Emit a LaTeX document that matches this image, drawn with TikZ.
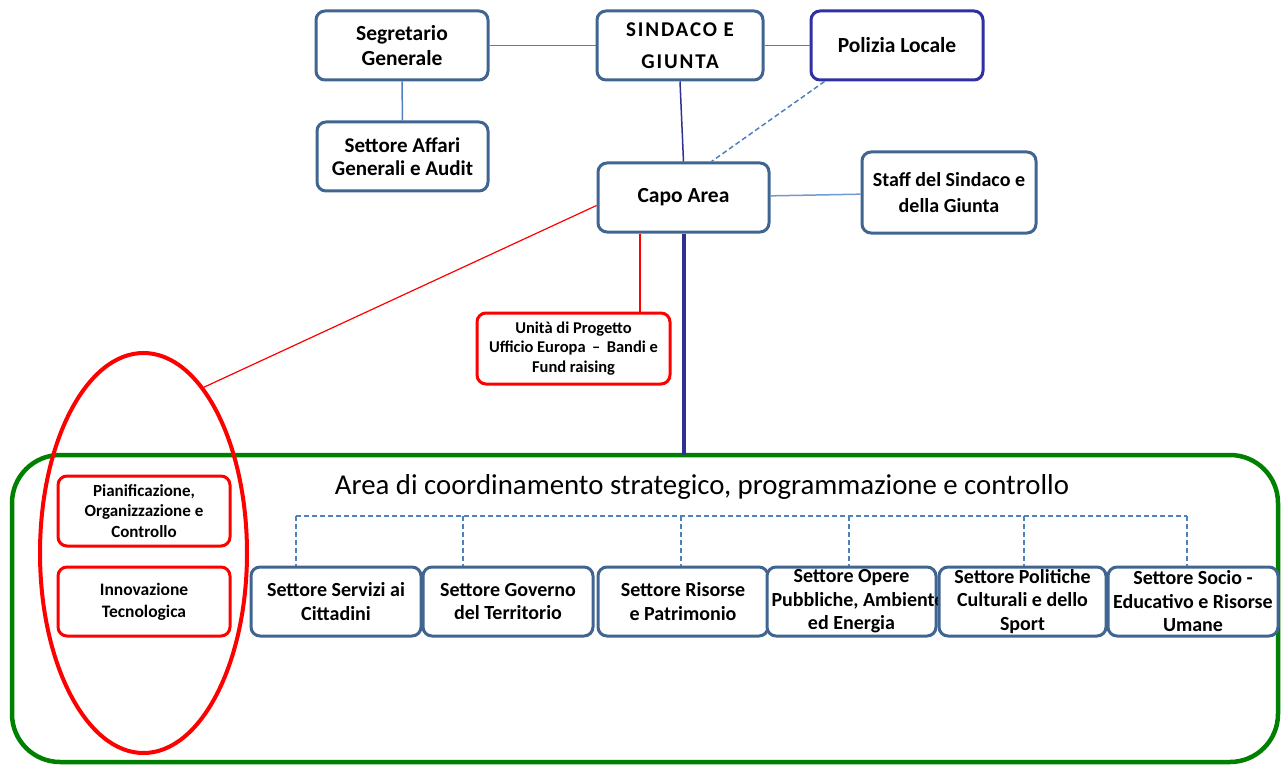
\documentclass[tikz,border=0pt]{standalone}
\usepackage{fontspec}
\setmainfont{Carlito}
\usetikzlibrary{shapes.geometric}
\definecolor{boxblue}{RGB}{65,101,145}
\definecolor{lineblue}{RGB}{79,129,189}
\definecolor{navyline}{RGB}{46,49,146}
\definecolor{policeblue}{RGB}{48,48,160}
\definecolor{areagreen}{RGB}{0,128,0}

\tikzset{
  unitbox/.style={draw=boxblue, line width=3pt, rounded corners=9pt, fill=white,
    align=center, inner sep=1pt, font=\bfseries\fontsize{21.5}{24.5}\selectfont},
  settorebox/.style={unitbox, minimum height=69pt, text width=160pt, align=flush center,
    font=\bfseries\fontsize{20}{23.5}\selectfont},
  redbox/.style={draw=red, line width=3pt, rounded corners=9pt, fill=white,
    align=center, inner sep=1pt, font=\bfseries\fontsize{16.5}{19.5}\selectfont},
  bluelink/.style={draw=lineblue, line width=1.5pt},
  dashlink/.style={draw=lineblue, line width=1.5pt, dash pattern=on 5pt off 3pt},
  redlink/.style={draw=red, line width=1.2pt}
}

\begin{document}
\begin{tikzpicture}[x=1pt,y=-1pt]
\useasboundingbox (0,0) rectangle (1283,765);
\clip (0,0) rectangle (1283,765);

% area box
\draw[areagreen, line width=4.5pt, rounded corners=48pt] (12,455) rectangle (1278,762);
\node[font=\fontsize{28.8}{32}\selectfont] (areatitle) at (702,487) {Area di coordinamento strategico, programmazione e controllo};

% top level
\node[unitbox, minimum width=172pt, minimum height=69pt] (segr) at (402,45.5) {Segretario\\Generale};
\node[unitbox, minimum width=166pt, minimum height=69pt, font=\bfseries\fontsize{21}{32}\selectfont\addfontfeature{LetterSpace=9}] (sindaco) at (680,45.5) {SINDACO E\\GIUNTA};
\node[unitbox, draw=policeblue, minimum width=172pt, minimum height=69pt] (polizia) at (897,45.5) {Polizia Locale};
\node[unitbox, minimum width=171pt, minimum height=69pt, font=\bfseries\fontsize{21}{23}\selectfont] (affari) at (402.5,156.5) {Settore Affari\\Generali e Audit};
\node[unitbox, minimum width=171pt, minimum height=69pt] (capo) at (683.5,197.5) {Capo Area};
\node[unitbox, minimum width=174pt, minimum height=81pt, font=\bfseries\fontsize{20}{26}\selectfont] (staff) at (949,192.5) {Staff del Sindaco e\\della Giunta};
\node[redbox, minimum width=193pt, minimum height=71pt] (unita) at (573.5,348.5) {Unità di Progetto\\Ufficio Europa \,--\, Bandi e\\Fund raising};

% connectors top
\draw[bluelink] (segr) -- (sindaco);
\draw[bluelink] (sindaco) -- (polizia);
\draw[bluelink] (segr) -- (affari);
\draw[bluelink, draw=lineblue!80] (capo) -- (staff);
\draw[navyline, line width=1.5pt] (sindaco.south) -- (capo.north);
\draw[dashlink] ([xshift=15pt]polizia.south west) -- ([xshift=28pt]capo.north);
\draw[navyline, line width=4pt] (capo.south) -- (capo.south |- 0,455);
\draw[redlink] ([xshift=-43.5pt]capo.south) -- ([xshift=-43.5pt]capo.south |- unita.north);

% staff units
\node[redbox, minimum width=172pt, minimum height=70pt, font=\bfseries\fontsize{17}{20.5}\selectfont] (pianif) at (144,511) {Pianificazione,\\Organizzazione e\\Controllo};
\node[redbox, minimum width=172pt, minimum height=69pt, font=\bfseries\fontsize{17.5}{22}\selectfont] (innov) at (144,601.5) {Innovazione\\Tecnologica};
\node[ellipse, draw=red, line width=4pt, minimum width=207pt, minimum height=400pt] (ovale) at (143.5,553) {};
\draw[redlink] ([yshift=-8pt]capo.west) -- (ovale.70);

% settori
\node[settorebox, minimum width=170pt] (servizi) at (336,601.5) {Settore Servizi ai\\Cittadini};
\node[settorebox, minimum width=170pt] (governo) at (508,601.5) {Settore Governo\\del Territorio};
\node[settorebox, minimum width=170pt] (risorse) at (683,601.5) {Settore Risorse\\e Patrimonio};
\node[settorebox, minimum width=169pt] (opere) at (851.5,601.5) {Settore Opere\\\mbox{Pubbliche, Ambiente}\\ed Energia};
\node[settorebox, minimum width=167pt] (politiche) at (1022.5,601.5) {Settore Politiche\\Culturali e dello\\Sport};
\node[settorebox, minimum width=170pt] (socio) at (1193,601.5) {Settore Socio -\\\mbox{Educativo e Risorse}\\Umane};

% dashed links to settori
\draw[dashlink] (296,516) -- (1187,516);
\foreach \x/\n in {296/servizi,463/governo,681/risorse,849/opere,1024/politiche,1187/socio}{
  \coordinate (drop\n) at (\x,516);
  \draw[dashlink] (drop\n) -- (drop\n |- \n.north);
}
\end{tikzpicture}
\end{document}
